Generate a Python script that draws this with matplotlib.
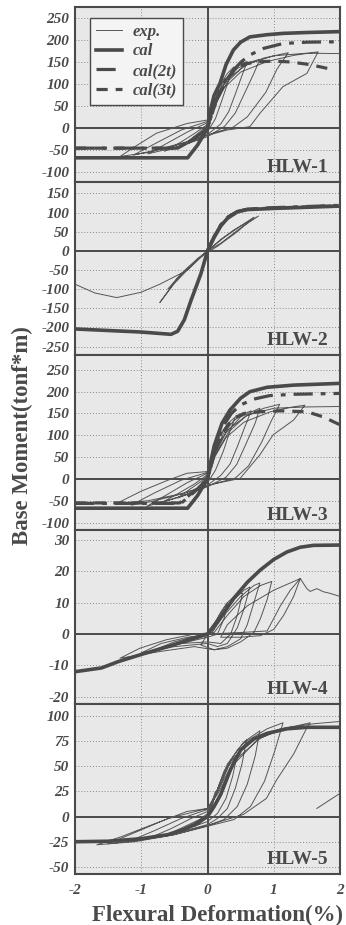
import matplotlib
matplotlib.use("Agg")
import matplotlib.pyplot as plt
from matplotlib.font_manager import FontProperties

plt.rcParams["axes.unicode_minus"] = False

# ---------------- data ----------------
xticks = [-2, -1, 0, 1, 2]
panel_names = ["HLW-1", "HLW-2", "HLW-3", "HLW-4", "HLW-5"]
panel_ylims = [(-122, 276), (-272, 180), (-117, 284), (-22.3, 33.2), (-57, 111.6)]
panel_yticks = [
    [-100, -50, 0, 50, 100, 150, 200, 250],
    [-250, -200, -150, -100, -50, 0, 50, 100, 150],
    [-100, -50, 0, 50, 100, 150, 200, 250],
    [-20, -10, 0, 10, 20, 30],
    [-50, -25, 0, 25, 50, 75, 100],
]

# HLW-1
hlw1_cal_x = [-2, -0.3, -0.15, 0, 0.05, 0.1, 0.19, 0.28, 0.39, 0.5, 0.64, 0.9, 1.14, 1.5, 2]
hlw1_cal_y = [-67, -67, -38, 0, 45, 75, 103, 145, 178, 196, 208, 213, 216, 218, 220]
hlw1_c2_x = [-2, -0.45, -0.22, 0, 0.05, 0.1, 0.19, 0.28, 0.39, 0.5, 0.64, 0.85, 1.14, 1.5, 2]
hlw1_c2_y = [-45, -45, -25, 0, 25, 50, 87, 112, 132, 150, 167, 182, 193, 196, 197]
hlw1_c3_x = [-2, -0.45, -0.22, 0, 0.05, 0.1, 0.2, 0.3, 0.4, 0.55, 0.74, 1.0, 1.25, 1.5, 1.7, 1.85]
hlw1_c3_y = [-45, -45, -25, 0, 24, 48, 85, 112, 132, 146, 151, 153, 151, 146, 140, 135]
hlw1_exp_x = [0, 0.05, 0.12, 0.08, 0.02, -0.06, -0.15, -0.08, 0,
              0.08, 0.18, 0.3, 0.4, 0.32, 0.22, 0.12, 0, -0.2, -0.4, -0.25, -0.1, 0,
              0.1, 0.22, 0.36, 0.5, 0.6, 0.52, 0.42, 0.32, 0.2, 0, -0.3, -0.65, -0.42, -0.2, 0,
              0.1, 0.25, 0.45, 0.65, 0.79, 0.7, 0.56, 0.42, 0.26, 0, -0.4, -0.9, -0.6, -0.3, 0,
              0.1, 0.3, 0.55, 0.85, 1.22, 1.05, 0.88, 0.6, 0.39, 0.1, -0.3, -0.8, -1.12, -0.77, -0.4, 0,
              0.1, 0.25, 0.5, 0.9, 1.3, 1.67, 1.5, 1.14, 0.79, 0.64, 0.29, 0, -0.4, -0.9, -1.32, -1.1, -0.77, -0.31, 0,
              0.1, 0.3, 0.6, 1.0, 1.5, 2.0]
hlw1_exp_y = [0, 30, 60, 35, 5, -15, -28, -12, 2,
              50, 95, 125, 140, 110, 65, 22, -8, -28, -42, -24, -6, 6,
              55, 100, 130, 147, 152, 120, 78, 38, 10, -14, -34, -52, -33, -12, 9,
              52, 102, 136, 151, 157, 125, 80, 35, 5, -19, -40, -58, -33, -8, 13,
              50, 106, 142, 160, 172, 135, 82, 26, 3, -10, -30, -50, -61, -33, -4, 16,
              48, 92, 128, 152, 166, 174, 125, 95, 34, 4, -4, -16, -36, -55, -64, -42, -11, 11, 19,
              62, 112, 146, 165, 171, 170]

# HLW-2
hlw2_cal_x = [-2, -1, -0.55, -0.45, -0.35, -0.25, -0.1, 0, 0.1, 0.2, 0.3, 0.45, 0.6, 1.0, 2]
hlw2_cal_y = [-204, -212, -218, -210, -180, -130, -60, 0, 35, 65, 85, 102, 108, 111, 117]
hlw2_c2_x = [0, 0.1, 0.2, 0.3, 0.45, 0.6, 1.0, 2]
hlw2_c2_y = [0, 38, 68, 88, 103, 109, 113, 119]
hlw2_c3_x = [0, 0.1, 0.2, 0.3, 0.45, 0.6, 1.0, 2]
hlw2_c3_y = [0, 37, 67, 87, 102, 109, 112, 118]
hlw2_exp_x = [0, 0.2, 0.4, 0.6, 0.77, 0.5, 0.2, 0, -0.2, -0.45, -0.72, -0.5, -0.25, 0,
              0.25, 0.5, 0.7, 0.45, 0.15, -0.1, -0.35, -0.6, -0.4, -0.15, 0,
              -0.3, -0.72, -1.0, -1.37, -1.7, -2.0]
hlw2_exp_y = [0, 30, 55, 75, 91, 60, 20, 0, -30, -70, -135, -85, -40, 0,
              35, 65, 88, 50, 12, -15, -55, -100, -60, -20, 0,
              -50, -87, -108, -122, -110, -87]

# HLW-3
hlw3_cal_x = [-2, -0.3, -0.15, 0, 0.05, 0.1, 0.14, 0.22, 0.34, 0.5, 0.64, 0.9, 1.3, 2]
hlw3_cal_y = [-67, -67, -38, 0, 40, 75, 93, 128, 158, 185, 200, 210, 215, 219]
hlw3_c2_x = [-2, -0.4, -0.2, 0, 0.05, 0.12, 0.24, 0.36, 0.49, 0.7, 0.94, 1.3, 2]
hlw3_c2_y = [-56, -56, -30, 0, 30, 70, 122, 150, 169, 183, 191, 194, 196]
hlw3_c3_x = [-2, -0.42, -0.2, 0, 0.05, 0.12, 0.22, 0.39, 0.55, 0.79, 1.1, 1.5, 1.75, 2]
hlw3_c3_y = [-55, -55, -28, 0, 28, 65, 105, 139, 150, 154, 156, 154, 142, 124]
hlw3_exp_x = [0, 0.05, 0.12, 0.08, 0.02, -0.06, -0.15, -0.08, 0,
              0.08, 0.18, 0.3, 0.42, 0.34, 0.24, 0.12, 0, -0.2, -0.45, -0.28, -0.1, 0,
              0.1, 0.24, 0.4, 0.56, 0.66, 0.56, 0.45, 0.34, 0.2, 0, -0.3, -0.7, -0.45, -0.2, 0,
              0.1, 0.28, 0.5, 0.7, 0.79, 0.72, 0.58, 0.44, 0.28, 0, -0.45, -0.92, -0.6, -0.3, 0,
              0.1, 0.32, 0.58, 0.85, 1.09, 0.96, 0.82, 0.62, 0.42, 0.1, -0.35, -0.85, -1.15, -0.8, -0.4, 0,
              0.1, 0.28, 0.55, 0.95, 1.25, 1.47, 1.3, 0.99, 0.79, 0.49, 0.2, 0, -0.4, -0.9, -1.37, -1.0, -0.6, -0.31, 0,
              0.1, 0.3, 0.6, 1.0, 1.5, 2.0]
hlw3_exp_y = [0, 30, 62, 35, 4, -14, -27, -11, 2,
              52, 96, 126, 142, 110, 64, 20, -9, -29, -44, -25, -6, 7,
              56, 104, 134, 150, 156, 118, 74, 34, 8, -14, -35, -55, -34, -12, 10,
              53, 106, 142, 156, 162, 128, 80, 33, 4, -18, -42, -63, -35, -8, 13,
              50, 108, 144, 162, 171, 132, 85, 30, 2, -11, -33, -52, -60, -32, -3, 15,
              48, 95, 130, 154, 164, 169, 135, 101, 55, 1, -8, -15, -34, -50, -56, -28, -3, 13, 17,
              62, 112, 146, 162, 165, 166]

# HLW-4
hlw4_cal_x = [-2, -1.6, -1.35, -1.0, -0.6, -0.3, 0, 0.2, 0.4, 0.6, 0.8, 1.0, 1.2, 1.4, 1.6, 2.0]
hlw4_cal_y = [-12, -10.8, -8.8, -6.5, -4, -2, 0, 5.5, 11.5, 16.5, 20.5, 23.8, 26.2, 27.7, 28.3, 28.4]
hlw4_exp_x = [0, 0.1, 0.2, 0.3, 0.25, 0.15, 0, -0.3, -0.5, -0.3, 0,
              0.15, 0.3, 0.45, 0.53, 0.45, 0.35, 0.2, 0, -0.4, -0.8, -0.5, -0.2, 0.05,
              0.2, 0.4, 0.55, 0.64, 0.55, 0.45, 0.3, 0.15, 0, -0.5, -1.0, -0.7, -0.3, 0.05,
              0.25, 0.5, 0.7, 0.79, 0.7, 0.6, 0.5, 0.3, 0.1, -0.2, -0.7, -1.32, -1.02, -0.62, -0.2, 0.1,
              0.3, 0.55, 0.8, 0.97, 0.9, 0.8, 0.7, 0.5, 0.3, 0.1, -0.1, 0, 0.5, 0.9,
              1.0, 1.1, 1.25, 1.4, 1.3, 1.15, 1.0, 0.8, 0.5, 0.2, 0.3, 0.6, 1.0, 1.4,
              1.5, 1.55, 1.65, 1.75, 1.85, 2.0]
hlw4_exp_y = [0, 3, 7, 10, 5, 0, -1, -2.5, -3.5, -1.5, 0,
              5, 10, 13, 13, 6, 0, -3, -2.5, -3, -5, -2.5, -0.8, 0,
              5, 11, 14, 15, 8, 2, -3, -4, -3, -4, -6, -3, -1, 0,
              6, 12, 15.5, 16.3, 10, 3, -1.5, -4, -5, -4, -5.5, -7.7, -4.5, -1.8, 0, 0.5,
              6, 12, 15.5, 16.8, 11, 5, 0.5, -2.5, -4.5, -5, -3.5, 0, 0.5, 1,
              5, 9, 14, 17.7, 12, 6, 1.5, -0.5, -1, -1, 3, 9, 14, 17.7,
              14.5, 13.6, 14.5, 13.5, 13, 12]

# HLW-5
hlw5_cal_x = [-2, -1.5, -1.0, -0.6, -0.35, -0.2, 0, 0.1, 0.2, 0.35, 0.5, 0.7, 0.9, 1.2, 1.5, 2]
hlw5_cal_y = [-25, -24.5, -22, -18, -12.5, -8, 0, 10, 22, 47, 66, 77, 82.5, 87, 88.5, 88.5]
hlw5_exp_x = [0, 0.05, 0.12, 0.08, 0.02, -0.1, -0.2, -0.1, 0,
              0.08, 0.2, 0.35, 0.45, 0.38, 0.28, 0.15, 0, -0.3, -0.6, -0.35, -0.12, 0,
              0.1, 0.25, 0.45, 0.59, 0.52, 0.42, 0.3, 0.15, 0, -0.4, -0.9, -0.55, -0.25, 0,
              0.12, 0.3, 0.55, 0.79, 0.72, 0.6, 0.45, 0.25, 0, -0.5, -1.2, -0.8, -0.4, 0,
              0.12, 0.32, 0.6, 0.9, 1.14, 1.02, 0.86, 0.65, 0.4, 0.1, -0.5, -1.1, -1.5, -1.1, -0.6, 0,
              0.15, 0.4, 0.75, 1.1, 1.35, 1.55, 1.5, 1.3, 1.04, 0.89, 0.54, 0.19, 0, -0.5, -1.1, -1.67, -1.3, -0.97, -0.31, 0,
              0.15, 0.4, 0.8, 1.2, 1.6, 1.95, 2.2, 2.4, 2.0, 1.65]
hlw5_exp_y = [0, 10, 25, 12, 0, -6, -10, -4, 1,
              15, 35, 55, 62, 40, 18, 3, -5, -12, -18, -10, -3, 3,
              18, 45, 66, 76, 52, 28, 8, -2, -8, -15, -22, -12, -2, 5,
              22, 52, 74, 85, 60, 32, 10, -3, -9, -17, -25, -14, -2, 7,
              20, 50, 75, 87, 93, 66, 35, 10, -3, -8, -18, -24, -27, -16, -2, 8,
              22, 52, 76, 87, 90, 93, 88, 62, 36, 18, 2, -5, -9, -18, -25, -28, -20, -11.5, 5, 8,
              25, 55, 78, 88, 92, 94, 95, 60, 23, 8]

panel_exp = [(hlw1_exp_x, hlw1_exp_y), (hlw2_exp_x, hlw2_exp_y), (hlw3_exp_x, hlw3_exp_y),
             (hlw4_exp_x, hlw4_exp_y), (hlw5_exp_x, hlw5_exp_y)]
panel_cal = [(hlw1_cal_x, hlw1_cal_y), (hlw2_cal_x, hlw2_cal_y), (hlw3_cal_x, hlw3_cal_y),
             (hlw4_cal_x, hlw4_cal_y), (hlw5_cal_x, hlw5_cal_y)]
panel_c2 = [(hlw1_c2_x, hlw1_c2_y), (hlw2_c2_x, hlw2_c2_y), (hlw3_c2_x, hlw3_c2_y), None, None]
panel_c3 = [(hlw1_c3_x, hlw1_c3_y), (hlw2_c3_x, hlw2_c3_y), (hlw3_c3_x, hlw3_c3_y), None, None]

# ---------------- style ----------------
ink = "#4a4a4a"
serif = "Liberation Serif"
tick_fp = FontProperties(family=serif, weight="bold", style="italic", size=11)
leg_fp = FontProperties(family=serif, weight="bold", style="italic", size=12)
lab_fp = FontProperties(family=serif, weight="bold", size=16.5)
name_fp = FontProperties(family=serif, weight="bold", size=14)

fig = plt.figure(figsize=(3.46, 9.25), dpi=100)
fig.patch.set_facecolor("white")
gs = fig.add_gridspec(5, 1, left=75/346, right=340/346, top=1-7/925, bottom=1-874/925,
                      hspace=0, height_ratios=[175, 173, 175, 174, 170])

axes = []
for i in range(5):
    ax = fig.add_subplot(gs[i])
    axes.append(ax)
    ax.set_facecolor("#e8e8e8")
    ax.set_xlim(-2, 2)
    ax.set_ylim(*panel_ylims[i])
    ax.set_yticks(panel_yticks[i])
    ax.set_xticks(xticks)
    ax.tick_params(length=0, pad=4, colors=ink)
    for lbl in ax.get_yticklabels():
        lbl.set_fontproperties(tick_fp)
    if i < 4:
        ax.set_xticklabels([])
    else:
        ax.set_xticklabels([str(v) for v in xticks])
        for lbl in ax.get_xticklabels():
            lbl.set_fontproperties(tick_fp)
        ax.tick_params(axis="x", pad=7)
    for sp in ax.spines.values():
        sp.set_color(ink)
        sp.set_linewidth(1.5)
    # grid
    for yv in panel_yticks[i]:
        if yv != 0:
            ax.axhline(yv, color="#8a8a8a", lw=0.7, ls=(0, (1, 2)), zorder=1)
    for xv in [-1, 1]:
        ax.axvline(xv, color="#8a8a8a", lw=0.7, ls=(0, (1, 2)), zorder=1)
    ax.axhline(0, color=ink, lw=1.4, zorder=2)
    ax.axvline(0, color=ink, lw=1.4, zorder=2)

    ex, ey = panel_exp[i]
    ax.plot(ex, ey, color="#555555", lw=0.7, zorder=3, label="exp.")
    cx, cy = panel_cal[i]
    ax.plot(cx, cy, color=ink, lw=2.6, zorder=4, label="cal", solid_joinstyle="round")
    if panel_c2[i] is not None:
        ax.plot(panel_c2[i][0], panel_c2[i][1], color=ink, lw=2.3, zorder=4,
                dashes=(6, 2.5, 1.5, 2.5), label="cal(2t)")
    if panel_c3[i] is not None:
        ax.plot(panel_c3[i][0], panel_c3[i][1], color=ink, lw=2.3, zorder=4,
                dashes=(3.5, 2.5), label="cal(3t)")
    ax.text(0.955, 0.035, panel_names[i], transform=ax.transAxes, ha="right", va="bottom",
            fontproperties=name_fp, color=ink, zorder=6)

leg = axes[0].legend(loc="upper left", bbox_to_anchor=(0.025, 0.985), prop=leg_fp,
                     frameon=True, fancybox=False, handlelength=1.6, handletextpad=0.6,
                     borderpad=0.35, labelspacing=0.22, labelcolor=ink)
leg.get_frame().set_edgecolor(ink)
leg.get_frame().set_linewidth(1.0)
leg.get_frame().set_facecolor("#f4f4f4")
leg.get_frame().set_alpha(1)

fig.text(22/346, 1-436/925, "Base Moment(tonf*m)", rotation=90, ha="center", va="center",
         fontproperties=lab_fp, color=ink)
fig.text(218/346, 1-915/925, "Flexural Deformation(%)", ha="center", va="center",
         fontproperties=lab_fp, color=ink)

fig.savefig("out.png", dpi=100, facecolor="white")
